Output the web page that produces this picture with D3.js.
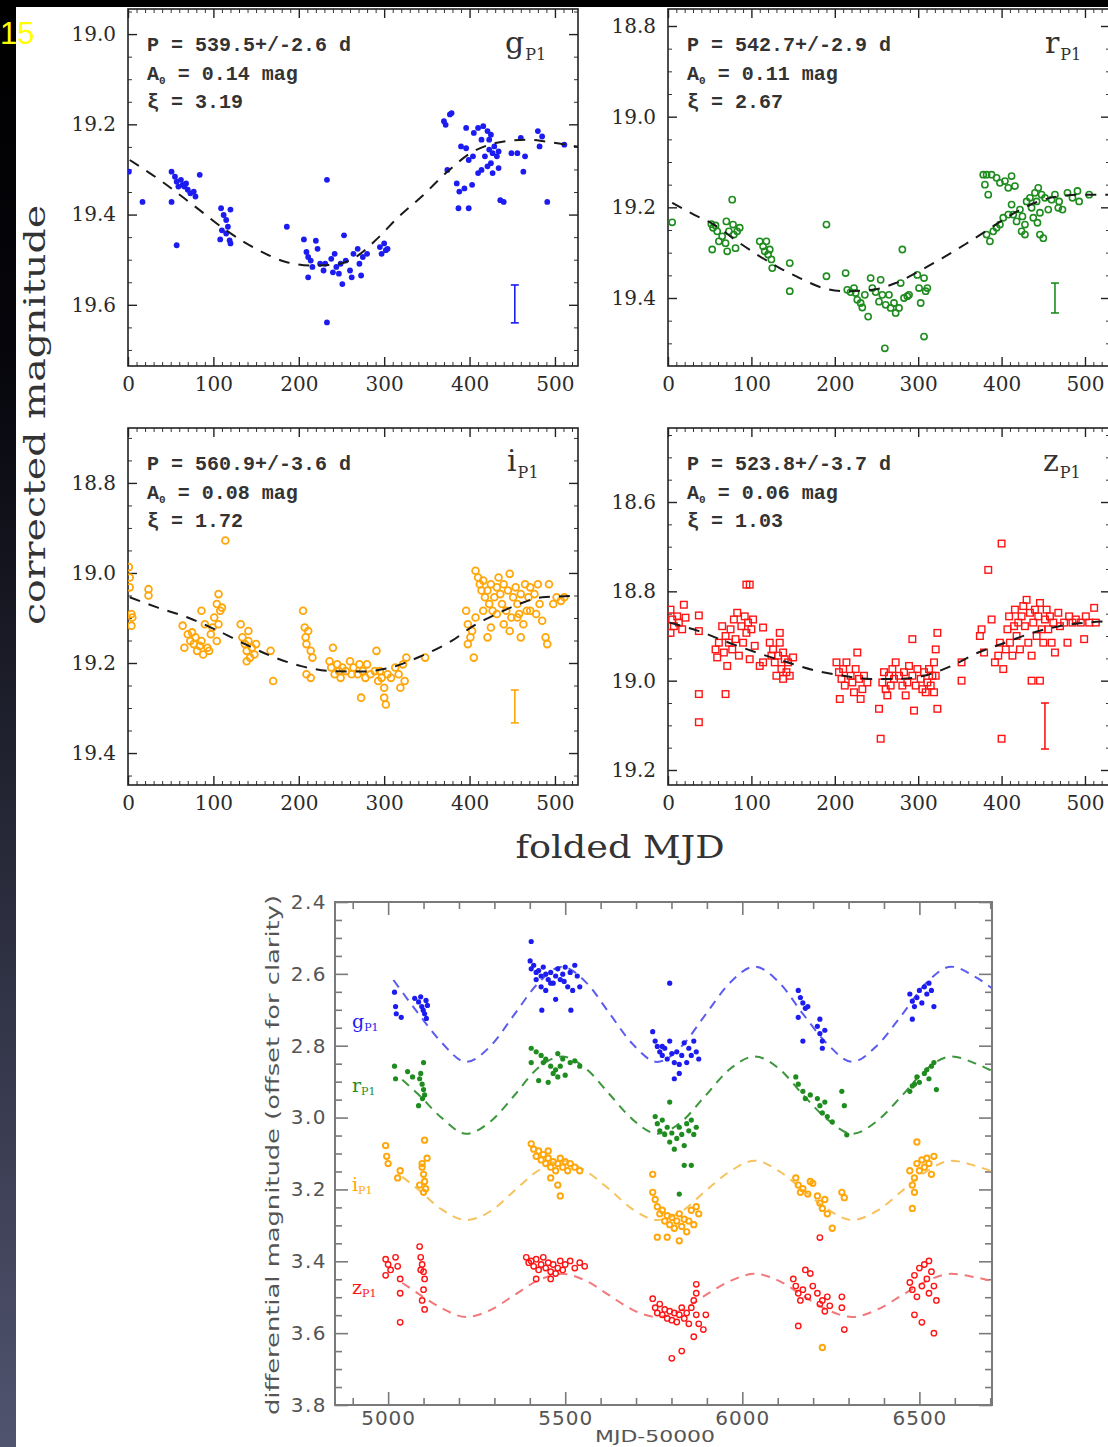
<!DOCTYPE html>
<html>
<head>
<meta charset="utf-8">
<script src="https://cdn.jsdelivr.net/npm/d3@7"></script>
<style>
html, body { margin: 0; padding: 0; background: #fff; }
svg { display: block; }
</style>
</head>
<body>
<script>
// ---------- folded light curves: [folded MJD, corrected magnitude] ----------
const gFolded = [[1,19.305],[17,19.372],[51,19.305],[51,19.372],[55,19.316],[57,19.327],[62,19.323],[64,19.334],[66,19.338],[68,19.331],[70,19.345],[73,19.353],[77,19.349],[79,19.36],[57,19.468],[84,19.312],[59,19.338],[109,19.386],[112,19.401],[115,19.412],[117,19.427],[110,19.435],[115,19.442],[119,19.457],[120,19.389],[108,19.455],[120,19.464],[186,19.427],[206,19.455],[209,19.483],[211,19.494],[214,19.502],[211,19.539],[216,19.516],[220,19.458],[222,19.476],[225,19.509],[229,19.524],[231,19.509],[233,19.323],[233,19.639],[238,19.498],[240,19.528],[242,19.487],[244,19.516],[247,19.531],[249,19.509],[251,19.554],[253,19.446],[255,19.502],[260,19.524],[262,19.539],[264,19.487],[269,19.476],[271,19.509],[273,19.535],[275,19.494],[280,19.487],[295,19.472],[297,19.487],[300,19.464],[302,19.479],[304,19.476],[370,19.193],[372,19.201],[377,19.178],[379,19.175],[374,19.301],[385,19.331],[388,19.349],[387,19.386],[399,19.386],[394,19.342],[403,19.334],[390,19.249],[396,19.253],[399,19.279],[404,19.271],[396,19.208],[405,19.219],[410,19.208],[416,19.204],[421,19.215],[425,19.223],[410,19.308],[414,19.301],[418,19.271],[423,19.256],[427,19.264],[429,19.249],[432,19.271],[434,19.26],[425,19.286],[421,19.293],[427,19.308],[434,19.297],[436,19.368],[440,19.372],[449,19.264],[456,19.264],[460,19.23],[463,19.305],[465,19.271],[480,19.215],[485,19.227],[482,19.249],[491,19.372],[511,19.245],[414,19.234],[423,19.234]];

const rFolded = [[5,19.233],[52,19.237],[54,19.245],[57,19.24],[59,19.253],[53,19.293],[61,19.275],[65,19.264],[70,19.231],[73,19.253],[71,19.297],[77,19.183],[78,19.238],[79,19.26],[81,19.29],[83,19.253],[86,19.245],[69,19.279],[110,19.275],[114,19.286],[116,19.297],[118,19.275],[120,19.304],[122,19.293],[125,19.334],[124,19.315],[146,19.323],[146,19.385],[190,19.238],[190,19.352],[213,19.345],[215,19.382],[219,19.387],[223,19.378],[225,19.389],[227,19.404],[231,19.411],[233,19.421],[236,19.393],[240,19.441],[243,19.356],[245,19.378],[249,19.387],[253,19.408],[255,19.36],[257,19.393],[260,19.511],[261,19.415],[265,19.393],[267,19.422],[271,19.411],[273,19.433],[277,19.422],[279,19.367],[281,19.293],[283,19.4],[287,19.396],[289,19.393],[299,19.349],[301,19.378],[303,19.411],[307,19.356],[311,19.378],[309,19.385],[307,19.485],[378,19.128],[382,19.128],[388,19.128],[380,19.15],[384,19.172],[394,19.135],[398,19.146],[404,19.142],[408,19.157],[412,19.131],[416,19.153],[382,19.26],[386,19.275],[390,19.253],[394,19.245],[398,19.238],[402,19.223],[408,19.216],[412,19.194],[414,19.216],[418,19.231],[422,19.205],[425,19.22],[428,19.238],[430,19.187],[434,19.179],[436,19.201],[438,19.223],[440,19.168],[442,19.187],[444,19.157],[446,19.212],[443,19.234],[446,19.26],[450,19.268],[428,19.26],[424,19.253],[448,19.172],[452,19.179],[456,19.205],[460,19.183],[464,19.172],[469,19.187],[473,19.205],[468,19.201],[479,19.168],[485,19.179],[491,19.164],[493,19.187],[505,19.172]];

const iFolded = [[2,19.01],[2,19.032],[4,19.091],[5,19.099],[4,19.117],[1,18.987],[24,19.036],[24,19.05],[64,19.117],[66,19.166],[70,19.136],[73,19.151],[75,19.132],[77,19.158],[79,19.143],[81,19.173],[84,19.162],[86,19.084],[86,19.151],[88,19.181],[90,19.114],[93,19.166],[95,19.173],[97,19.136],[99,19.121],[101,19.099],[104,19.069],[106,19.047],[108,19.084],[110,19.077],[106,19.114],[104,19.151],[114,18.928],[132,19.114],[134,19.143],[137,19.158],[139,19.173],[141,19.151],[143,19.188],[145,19.166],[148,19.181],[150,19.158],[141,19.129],[139,19.196],[167,19.173],[170,19.24],[205,19.084],[207,19.121],[208,19.143],[209,19.158],[211,19.129],[214,19.173],[216,19.188],[209,19.225],[214,19.233],[236,19.196],[238,19.21],[240,19.166],[242,19.225],[245,19.203],[247,19.218],[249,19.233],[251,19.21],[255,19.218],[260,19.196],[262,19.225],[264,19.21],[269,19.225],[271,19.203],[273,19.277],[275,19.218],[278,19.233],[280,19.203],[284,19.225],[289,19.218],[291,19.173],[293,19.24],[295,19.218],[297,19.233],[300,19.255],[300,19.277],[302,19.292],[304,19.225],[308,19.233],[313,19.21],[317,19.225],[319,19.255],[322,19.203],[324,19.24],[326,19.188],[348,19.188],[396,19.084],[398,19.114],[401,19.143],[403,19.129],[398,19.158],[405,19.188],[407,18.995],[410,19.01],[412,19.025],[414,19.039],[416,19.017],[418,19.054],[421,19.039],[423,19.069],[425,19.025],[427,19.084],[429,19.054],[432,19.032],[434,19.01],[436,19.047],[438,19.069],[440,19.025],[443,19.084],[445,19.039],[447,19.002],[449,19.099],[451,19.054],[454,19.032],[456,19.069],[458,19.091],[460,19.047],[463,19.114],[465,19.025],[467,19.084],[469,19.054],[471,19.032],[476,19.047],[480,19.025],[482,19.069],[485,19.106],[489,19.143],[491,19.158],[493,19.025],[498,19.069],[502,19.054],[507,19.062],[511,19.054],[421,19.143],[425,19.121],[460,19.143],[432,19.091],[440,19.114],[447,19.129],[456,19.099],[471,19.084],[478,19.091],[416,19.084],[407,19.099]];

const zFolded = [[3,18.841],[5,18.863],[7,18.878],[11,18.856],[13,18.87],[17,18.885],[19,18.83],[21,18.859],[3,18.893],[37,18.854],[37,18.889],[37,19.03],[37,19.093],[57,18.93],[59,18.948],[61,18.915],[65,18.878],[67,18.937],[69,18.9],[69,19.03],[71,18.967],[73,18.915],[75,18.885],[77,18.93],[79,18.863],[81,18.907],[83,18.848],[85,18.944],[88,18.878],[90,18.915],[92,18.856],[94,18.893],[96,18.87],[98,18.952],[100,18.885],[98,18.785],[94,18.785],[102,18.863],[104,18.922],[114,18.881],[110,18.967],[114,18.959],[122,18.915],[124,18.944],[126,18.93],[128,18.959],[130,18.989],[132,18.944],[134,18.893],[134,18.915],[136,18.974],[138,18.996],[140,18.952],[142,18.981],[144,18.959],[146,18.989],[150,18.948],[138,18.937],[202,18.959],[205,18.981],[206,19.041],[208,18.996],[210,18.974],[212,19.011],[214,18.959],[219,18.989],[221,19.004],[223,19.026],[225,18.974],[227,18.937],[229,18.996],[231,19.041],[233,19.019],[235,18.989],[239,19.004],[253,19.063],[255,19.13],[257,19.004],[259,18.981],[261,19.019],[263,19.033],[265,18.989],[267,19.011],[269,18.974],[271,18.996],[273,18.959],[277,18.989],[281,19.011],[283,18.981],[285,19.033],[287,19.004],[289,18.967],[293,18.989],[295,19.067],[293,18.907],[297,19.011],[299,18.974],[303,18.996],[305,19.019],[307,18.981],[309,19.026],[311,19.004],[313,18.974],[315,19.011],[317,18.989],[319,18.959],[321,18.93],[323,18.893],[323,19.063],[321,18.989],[319,19.026],[352,18.959],[352,19.0],[374,18.9],[376,18.885],[379,18.937],[384,18.752],[388,18.863],[392,18.959],[396,18.944],[398,18.915],[400,18.693],[400,19.13],[402,18.974],[405,18.93],[407,18.885],[409,18.856],[410,18.915],[413,18.944],[415,18.878],[416,18.841],[418,18.9],[420,18.87],[422,18.93],[424,18.856],[426,18.833],[428,18.878],[430,18.819],[432,18.915],[434,18.848],[436,18.944],[438,18.87],[440,18.841],[442,18.9],[444,18.856],[446,18.826],[448,18.885],[450,18.915],[452,18.863],[454,18.841],[456,18.885],[458,18.856],[460,18.915],[462,18.87],[464,18.937],[436,19.0],[446,19.0],[468,18.848],[470,18.878],[475,18.87],[479,18.915],[481,18.856],[485,18.87],[489,18.863],[495,18.87],[499,18.907],[501,18.856],[505,18.87],[511,18.837],[513,18.87]];

// folded best-fit curves
const gFoldFit = [[2,19.279],[40,19.327],[79,19.383],[115,19.435],[150,19.476],[185,19.505],[215,19.513],[245,19.51],[270,19.49],[291,19.455],[317,19.405],[344,19.36],[374,19.305],[401,19.264],[432,19.241],[467,19.234],[489,19.238],[527,19.25]];
const rFoldFit = [[5,19.19],[31,19.216],[55,19.238],[83,19.275],[110,19.308],[134,19.334],[158,19.356],[186,19.378],[213,19.385],[245,19.382],[273,19.367],[301,19.341],[329,19.312],[356,19.282],[384,19.249],[412,19.216],[440,19.19],[467,19.176],[495,19.172],[530,19.172]];
const iFoldFit = [[2,19.054],[35,19.077],[70,19.099],[106,19.129],[137,19.158],[167,19.184],[203,19.207],[238,19.218],[273,19.219],[308,19.21],[344,19.184],[379,19.151],[405,19.117],[432,19.091],[458,19.069],[485,19.054],[527,19.051]];
const zFoldFit = [[2,18.87],[37,18.889],[73,18.915],[106,18.937],[138,18.956],[178,18.978],[210,18.989],[243,18.996],[275,18.996],[307,18.989],[340,18.967],[372,18.937],[404,18.915],[437,18.893],[469,18.878],[501,18.87],[530,18.867]];

// typical error bars: [folded MJD, magnitude low, magnitude high]
const gErrBar = [453, 19.556, 19.640];
const rErrBar = [464, 19.367, 19.433];
const iErrBar = [453, 19.260, 19.333];
const zErrBar = [452, 19.050, 19.153];

// fit results per band
const bands = ['g', 'r', 'i', 'z'];
const periodText = ['P = 539.5+/-2.6 d', 'P = 542.7+/-2.9 d', 'P = 560.9+/-3.6 d', 'P = 523.8+/-3.7 d'];
const ampText = ['0.14', '0.11', '0.08', '0.06'];
const xiText = ['3.19', '2.67', '1.72', '1.03'];

// folded axis ticks
const foldedXTicks = [0, 100, 200, 300, 400, 500];
const gYTicks = [19.0, 19.2, 19.4, 19.6];
const rYTicks = [18.8, 19.0, 19.2, 19.4];
const iYTicks = [18.8, 19.0, 19.2, 19.4];
const zYTicks = [18.6, 18.8, 19.0, 19.2];

// ---------- full light curves: [MJD-50000, differential magnitude + offset] ----------
const gLight = [[5018,2.651],[5021,2.691],[5023,2.711],[5037,2.721],[5075,2.668],[5086,2.678],[5095,2.691],[5099,2.701],[5103,2.711],[5107,2.674],[5108,2.724],[5111,2.688],[5092,2.664],
[5401,2.564],[5404,2.586],[5411,2.576],[5418,2.596],[5425,2.591],[5432,2.606],[5438,2.581],[5445,2.601],[5452,2.616],[5459,2.596],[5466,2.626],[5473,2.606],[5479,2.586],[5486,2.616],[5493,2.601],[5500,2.581],[5507,2.636],[5514,2.596],[5521,2.646],[5527,2.576],[5534,2.606],[5541,2.636],[5432,2.636],[5445,2.646],[5418,2.616],[5473,2.671],[5434,2.701],[5516,2.701],[5404,2.51],[5459,2.626],[5497,2.621],
[5747,2.761],[5754,2.787],[5760,2.802],[5767,2.817],[5774,2.827],[5781,2.807],[5788,2.837],[5795,2.787],[5801,2.822],[5808,2.847],[5815,2.817],[5822,2.877],[5829,2.827],[5836,2.792],[5843,2.847],[5849,2.807],[5856,2.827],[5863,2.787],[5870,2.817],[5877,2.837],[5808,2.892],[5795,2.626],[5822,2.852],[5774,2.802],
[6158,2.646],[6164,2.666],[6171,2.681],[6178,2.696],[6158,2.721],[6185,2.691],[6212,2.746],[6219,2.766],[6226,2.787],[6233,2.757],[6226,2.807],[6171,2.787],[6219,2.726],
[6473,2.656],[6480,2.676],[6486,2.691],[6493,2.666],[6500,2.646],[6507,2.681],[6514,2.636],[6521,2.656],[6527,2.626],[6534,2.646],[6541,2.691],[6480,2.726]];

const rLight = [[5018,2.857],[5021,2.892],[5055,2.872],[5069,2.887],[5089,2.892],[5096,2.907],[5100,2.922],[5103,2.937],[5097,2.947],[5092,2.877],[5100,2.847],[5086,2.967],
[5404,2.807],[5418,2.817],[5432,2.827],[5438,2.847],[5445,2.837],[5459,2.857],[5466,2.877],[5473,2.867],[5479,2.887],[5486,2.857],[5493,2.837],[5500,2.882],[5514,2.847],[5527,2.842],[5541,2.857],[5425,2.897],[5452,2.902],[5404,2.847],[5479,2.822],
[5754,2.997],[5760,3.017],[5767,3.037],[5774,3.007],[5781,3.047],[5788,3.027],[5795,3.068],[5801,3.043],[5808,3.088],[5815,3.058],[5822,3.027],[5829,3.047],[5836,3.078],[5843,3.017],[5849,3.037],[5856,3.007],[5863,3.047],[5870,3.027],[5795,2.957],[5836,3.133],[5856,3.133],[5822,3.213],
[6151,2.887],[6158,2.907],[6171,2.927],[6178,2.947],[6192,2.937],[6212,2.947],[6219,2.967],[6226,2.987],[6233,2.957],[6240,2.997],[6254,3.012],[6281,2.927],[6288,2.967],[6295,3.048],
[6473,2.927],[6486,2.907],[6493,2.887],[6500,2.902],[6514,2.877],[6521,2.867],[6527,2.892],[6534,2.857],[6541,2.847],[6548,2.922],[6480,2.912]];

const iLight = [[4993,3.078],[4996,3.108],[5000,3.128],[5027,3.168],[5034,3.148],[5096,3.138],[5100,3.158],[5103,3.178],[5106,3.198],[5100,3.208],[5089,3.188],[5110,3.113],[5103,3.063],[5096,3.128],
[5404,3.073],[5411,3.088],[5418,3.108],[5425,3.093],[5432,3.118],[5438,3.103],[5445,3.128],[5452,3.113],[5459,3.138],[5466,3.123],[5473,3.148],[5479,3.128],[5486,3.113],[5493,3.138],[5500,3.123],[5507,3.148],[5514,3.128],[5527,3.138],[5541,3.148],[5459,3.168],[5479,3.188],[5486,3.218],[5452,3.093],
[5747,3.158],[5747,3.208],[5754,3.228],[5760,3.248],[5767,3.268],[5774,3.258],[5781,3.288],[5788,3.273],[5795,3.298],[5801,3.278],[5808,3.308],[5815,3.288],[5822,3.268],[5829,3.303],[5836,3.283],[5843,3.318],[5849,3.288],[5856,3.258],[5863,3.298],[5870,3.248],[5877,3.268],[5788,3.333],[5822,3.343],[5760,3.333],
[6151,3.168],[6158,3.188],[6164,3.208],[6171,3.198],[6185,3.213],[6199,3.183],[6212,3.218],[6219,3.238],[6226,3.253],[6233,3.228],[6240,3.268],[6254,3.308],[6281,3.208],[6288,3.223],[6192,3.178],
[6473,3.148],[6480,3.188],[6486,3.168],[6493,3.128],[6500,3.148],[6507,3.118],[6514,3.138],[6521,3.113],[6527,3.128],[6534,3.158],[6541,3.108],[6493,3.068],[6480,3.253],[6486,3.208],[6226,3.64]];

const zLight = [[4993,3.394],[5000,3.409],[5007,3.424],[4993,3.439],[5021,3.389],[5027,3.414],[5034,3.449],[5034,3.489],[5034,3.57],[5089,3.359],[5092,3.389],[5096,3.409],[5100,3.429],[5103,3.449],[5100,3.479],[5096,3.509],[5103,3.534],[5092,3.424],
[5390,3.389],[5397,3.404],[5404,3.399],[5411,3.414],[5418,3.394],[5425,3.424],[5432,3.409],[5438,3.389],[5445,3.419],[5452,3.404],[5459,3.429],[5466,3.409],[5473,3.434],[5479,3.419],[5486,3.399],[5493,3.424],[5500,3.409],[5514,3.399],[5527,3.419],[5541,3.404],[5555,3.414],[5418,3.449],[5459,3.449],
[5747,3.504],[5754,3.529],[5760,3.544],[5767,3.519],[5774,3.549],[5781,3.534],[5788,3.559],[5795,3.539],[5801,3.564],[5808,3.544],[5815,3.569],[5822,3.549],[5829,3.529],[5836,3.559],[5843,3.544],[5849,3.574],[5856,3.529],[5863,3.509],[5870,3.549],[5877,3.574],[5870,3.489],[5870,3.464],[5863,3.61],[5801,3.67],[5829,3.65],[5890,3.59],[5897,3.549],
[6144,3.449],[6151,3.469],[6158,3.489],[6164,3.509],[6171,3.479],[6185,3.499],[6192,3.434],[6199,3.469],[6212,3.489],[6219,3.519],[6226,3.509],[6233,3.539],[6240,3.499],[6247,3.524],[6178,3.424],[6158,3.58],[6281,3.499],[6281,3.529],[6288,3.59],[6219,3.334],
[6473,3.459],[6480,3.479],[6486,3.439],[6493,3.499],[6500,3.419],[6507,3.469],[6514,3.409],[6521,3.449],[6527,3.489],[6534,3.429],[6541,3.469],[6548,3.509],[6486,3.549],[6507,3.57],[6541,3.6],[6527,3.399]];

// periodic model curves for the full light curves
const gModel = [[5015,2.617],[5085,2.71],[5150,2.79],[5220,2.845],[5290,2.80],[5355,2.715],[5420,2.63],[5490,2.58],[5560,2.625],[5625,2.71],[5690,2.795],[5760,2.845],[5830,2.80],[5895,2.715],[5965,2.625],[6035,2.58],[6105,2.625],[6170,2.71],[6240,2.795],[6310,2.845],[6380,2.80],[6450,2.715],[6520,2.625],[6590,2.58],[6660,2.61],[6705,2.64]];
const rModel = [[5040,2.895],[5085,2.935],[5150,3.00],[5220,3.045],[5290,3.01],[5355,2.94],[5420,2.865],[5490,2.83],[5560,2.865],[5625,2.935],[5690,3.005],[5760,3.045],[5830,3.01],[5895,2.94],[5965,2.865],[6035,2.83],[6105,2.865],[6170,2.935],[6240,3.005],[6310,3.045],[6380,3.01],[6450,2.94],[6520,2.865],[6590,2.83],[6660,2.85],[6705,2.87]];
const iModel = [[5040,3.165],[5085,3.20],[5150,3.255],[5220,3.285],[5290,3.26],[5355,3.205],[5420,3.15],[5490,3.12],[5560,3.15],[5625,3.20],[5690,3.255],[5760,3.285],[5830,3.26],[5895,3.205],[5965,3.15],[6035,3.12],[6105,3.15],[6170,3.20],[6240,3.255],[6310,3.285],[6380,3.26],[6450,3.205],[6520,3.15],[6590,3.12],[6660,3.135],[6705,3.15]];
const zModel = [[5040,3.46],[5085,3.49],[5150,3.53],[5220,3.555],[5290,3.535],[5355,3.495],[5420,3.455],[5490,3.435],[5560,3.455],[5625,3.495],[5690,3.535],[5760,3.555],[5830,3.535],[5895,3.495],[5965,3.455],[6035,3.435],[6105,3.455],[6170,3.495],[6240,3.535],[6310,3.555],[6380,3.535],[6450,3.495],[6520,3.455],[6590,3.435],[6660,3.445],[6705,3.455]];

const lightXTicks = [5000, 5500, 6000, 6500];
const lightYTicks = [2.4, 2.6, 2.8, 3.0, 3.2, 3.4, 3.6, 3.8];

// ---------- drawing ----------
const W = 1108, H = 1447;
const svg = d3.select('body').append('svg').attr('width', W).attr('height', H);
const defs = svg.append('defs');
svg.append('rect').attr('width', W).attr('height', H).attr('fill', '#fff');

const bandColor = { g: '#1c1cf0', r: '#1e8c1e', i: '#ffa60a', z: '#ff1414' };
const serif = "'DejaVu Serif', serif";

const panels = [
  { band: 'g', pts: gFolded, fit: gFoldFit, err: gErrBar, yTicks: gYTicks,
    left: 128, right: 578, top: 9, bottom: 366, xMax: 527, yDom: [18.9444, 19.7356], lab: [505, 53] },
  { band: 'r', pts: rFolded, fit: rFoldFit, err: rErrBar, yTicks: rYTicks,
    left: 668, right: 1110, top: 9, bottom: 366, xMax: 530, yDom: [18.7625, 19.55], lab: [1045, 53] },
  { band: 'i', pts: iFolded, fit: iFoldFit, err: iErrBar, yTicks: iYTicks,
    left: 128, right: 578, top: 428, bottom: 785, xMax: 527, yDom: [18.678, 19.471], lab: [507, 471] },
  { band: 'z', pts: zFolded, fit: zFoldFit, err: zErrBar, yTicks: zYTicks,
    left: 668, right: 1110, top: 428, bottom: 785, xMax: 530, yDom: [18.4343, 19.2336], lab: [1043, 471] }
];

function styleAxis(sel, color, width) {
  sel.select('.domain').remove();
  sel.selectAll('line').attr('stroke', color).attr('stroke-width', width);
}

panels.forEach((p, k) => {
  const x = d3.scaleLinear().domain([0, p.xMax]).range([p.left, p.right]);
  const y = d3.scaleLinear().domain(p.yDom).range([p.top, p.bottom]);
  const g = svg.append('g');
  const clipId = 'clip-' + p.band;
  defs.append('clipPath').attr('id', clipId).append('rect')
    .attr('x', p.left).attr('y', p.top).attr('width', p.right - p.left).attr('height', p.bottom - p.top);

  const xMinor = d3.range(10, p.xMax, 10).filter(v => v % 100 !== 0);
  const yMinor = d3.range(Math.ceil(p.yDom[0] * 20) / 20, p.yDom[1], 0.05)
    .filter(v => Math.abs(v * 5 - Math.round(v * 5)) > 1e-6);

  // minor ticks (four sides)
  [[d3.axisBottom(x), `translate(0,${p.bottom})`], [d3.axisTop(x), `translate(0,${p.top})`]].forEach(([ax, tr]) => {
    g.append('g').attr('transform', tr)
      .call(ax.tickValues(xMinor).tickSize(-4).tickFormat(''))
      .call(s => styleAxis(s, '#333', 1));
  });
  [[d3.axisLeft(y), `translate(${p.left},0)`], [d3.axisRight(y), `translate(${p.right},0)`]].forEach(([ax, tr]) => {
    g.append('g').attr('transform', tr)
      .call(ax.tickValues(yMinor).tickSize(-4).tickFormat(''))
      .call(s => styleAxis(s, '#333', 1));
  });

  // major ticks with labels
  const xb = g.append('g').attr('transform', `translate(0,${p.bottom})`)
    .call(d3.axisBottom(x).tickValues(foldedXTicks).tickSizeInner(-9).tickSizeOuter(0).tickPadding(11).tickFormat(d3.format('d')));
  styleAxis(xb, '#222', 1.4);
  xb.selectAll('text').attr('font-family', serif).attr('font-size', 20).attr('fill', '#2a2a2a');
  const xt = g.append('g').attr('transform', `translate(0,${p.top})`)
    .call(d3.axisTop(x).tickValues(foldedXTicks).tickSize(-9).tickFormat(''));
  styleAxis(xt, '#222', 1.4);
  const yl = g.append('g').attr('transform', `translate(${p.left},0)`)
    .call(d3.axisLeft(y).tickValues(p.yTicks).tickSizeInner(-9).tickSizeOuter(0).tickPadding(12).tickFormat(d3.format('.1f')));
  styleAxis(yl, '#222', 1.4);
  yl.selectAll('text').attr('font-family', serif).attr('font-size', 20).attr('fill', '#2a2a2a');
  const yr = g.append('g').attr('transform', `translate(${p.right},0)`)
    .call(d3.axisRight(y).tickValues(p.yTicks).tickSize(-9).tickFormat(''));
  styleAxis(yr, '#222', 1.4);

  // frame
  g.append('rect').attr('x', p.left).attr('y', p.top)
    .attr('width', p.right - p.left).attr('height', p.bottom - p.top)
    .attr('fill', 'none').attr('stroke', '#222').attr('stroke-width', 1.6);

  const plot = g.append('g').attr('clip-path', `url(#${clipId})`);
  const col = bandColor[p.band];

  // data points: g filled dots, r & i open circles, z open squares
  if (p.band === 'g') {
    plot.selectAll('circle').data(p.pts).join('circle')
      .attr('cx', d => x(d[0])).attr('cy', d => y(d[1])).attr('r', 2.9).attr('fill', col);
  } else if (p.band === 'z') {
    plot.selectAll('rect').data(p.pts).join('rect')
      .attr('x', d => x(d[0]) - 3.3).attr('y', d => y(d[1]) - 3.3)
      .attr('width', 6.6).attr('height', 6.6)
      .attr('fill', 'none').attr('stroke', col).attr('stroke-width', 1.4);
  } else {
    plot.selectAll('circle').data(p.pts).join('circle')
      .attr('cx', d => x(d[0])).attr('cy', d => y(d[1])).attr('r', p.band === 'i' ? 3.4 : 3.1)
      .attr('fill', 'none').attr('stroke', col).attr('stroke-width', p.band === 'i' ? 1.8 : 1.6);
  }

  // folded fit
  plot.append('path').datum(p.fit)
    .attr('d', d3.line().x(d => x(d[0])).y(d => y(d[1])).curve(d3.curveMonotoneX))
    .attr('fill', 'none').attr('stroke', '#1a1a1a').attr('stroke-width', 2)
    .attr('stroke-dasharray', '11,9');

  // typical error bar
  const ex = x(p.err[0]);
  const eb = g.append('g').attr('stroke', col).attr('stroke-width', 1.6);
  eb.append('line').attr('x1', ex).attr('x2', ex).attr('y1', y(p.err[1])).attr('y2', y(p.err[2]));
  eb.append('line').attr('x1', ex - 4).attr('x2', ex + 4).attr('y1', y(p.err[1])).attr('y2', y(p.err[1]));
  eb.append('line').attr('x1', ex - 4).attr('x2', ex + 4).attr('y1', y(p.err[2])).attr('y2', y(p.err[2]));

  // fit results
  const tx = p.left + 19;
  const ann = g.append('g').attr('font-family', "'Liberation Mono', monospace")
    .attr('font-weight', 'bold').attr('font-size', 20).attr('fill', '#333');
  ann.append('text').attr('x', tx).attr('y', p.top + 42).text(periodText[k]);
  const a = ann.append('text').attr('x', tx).attr('y', p.top + 71);
  a.append('tspan').text('A');
  a.append('tspan').attr('font-size', 11).attr('dy', 4).text('0');
  a.append('tspan').attr('dy', -4).text(' = ' + ampText[k] + ' mag');
  ann.append('text').attr('x', tx).attr('y', p.top + 99).text('ξ = ' + xiText[k]);

  // band name
  const bl = g.append('text').attr('x', p.lab[0]).attr('y', p.lab[1])
    .attr('font-family', serif).attr('fill', '#333');
  bl.append('tspan').attr('font-size', 30).text(p.band);
  bl.append('tspan').attr('font-size', 16).attr('dy', 7).attr('dx', 1).text('P1');
});

// shared labels of the folded panels
svg.append('text').attr('transform', 'translate(45,415) rotate(-90)')
  .attr('text-anchor', 'middle').attr('font-family', serif).attr('font-size', 30)
  .attr('fill', '#333').attr('textLength', 420).attr('lengthAdjust', 'spacingAndGlyphs')
  .text('corrected magnitude');
svg.append('text').attr('x', 620).attr('y', 858)
  .attr('text-anchor', 'middle').attr('font-family', serif).attr('font-size', 32)
  .attr('fill', '#333').attr('textLength', 209).attr('lengthAdjust', 'spacingAndGlyphs')
  .text('folded MJD');

// ---------- full light curve panel ----------
(function () {
  const L = 335, R = 992, T = 902, B = 1405;
  const x = d3.scaleLinear().domain([4850, 6705]).range([L, R]);
  const y = d3.scaleLinear().domain([2.4, 3.8]).range([T, B]);
  const g = svg.append('g');
  const axisCol = '#7a7a7a';
  const sans = "'DejaVu Sans', 'Liberation Sans', sans-serif";
  defs.append('clipPath').attr('id', 'clip-lc').append('rect')
    .attr('x', L).attr('y', T).attr('width', R - L).attr('height', B - T);

  const xMinor = d3.range(4900, 6705, 100).filter(v => v % 500 !== 0);
  const yMinor = d3.range(2.45, 3.8, 0.05).filter(v => Math.abs(v * 5 - Math.round(v * 5)) > 1e-6);

  [[d3.axisBottom(x), B], [d3.axisTop(x), T]].forEach(([ax, pos]) => {
    g.append('g').attr('transform', `translate(0,${pos})`)
      .call(ax.tickValues(xMinor).tickSize(-7).tickFormat('')).call(s => styleAxis(s, axisCol, 1.6));
  });
  [[d3.axisLeft(y), L], [d3.axisRight(y), R]].forEach(([ax, pos]) => {
    g.append('g').attr('transform', `translate(${pos},0)`)
      .call(ax.tickValues(yMinor).tickSize(-7).tickFormat('')).call(s => styleAxis(s, axisCol, 1.6));
  });
  const xb = g.append('g').attr('transform', `translate(0,${B})`)
    .call(d3.axisBottom(x).tickValues(lightXTicks).tickSizeInner(-13).tickSizeOuter(0).tickPadding(6).tickFormat(d3.format('d')));
  styleAxis(xb, axisCol, 1.6);
  xb.selectAll('text').attr('font-family', sans).attr('font-size', 20).attr('fill', '#555').attr('letter-spacing', 1);
  g.append('g').attr('transform', `translate(0,${T})`)
    .call(d3.axisTop(x).tickValues(lightXTicks).tickSize(-13).tickFormat('')).call(s => styleAxis(s, axisCol, 1.6));
  const yl = g.append('g').attr('transform', `translate(${L},0)`)
    .call(d3.axisLeft(y).tickValues(lightYTicks).tickSizeInner(-13).tickSizeOuter(0).tickPadding(8).tickFormat(d3.format('.1f')));
  styleAxis(yl, axisCol, 1.6);
  yl.selectAll('text').attr('font-family', sans).attr('font-size', 20).attr('fill', '#555').attr('letter-spacing', 1.5);
  g.append('g').attr('transform', `translate(${R},0)`)
    .call(d3.axisRight(y).tickValues(lightYTicks).tickSize(-13).tickFormat('')).call(s => styleAxis(s, axisCol, 1.6));
  g.append('rect').attr('x', L).attr('y', T).attr('width', R - L).attr('height', B - T)
    .attr('fill', 'none').attr('stroke', axisCol).attr('stroke-width', 2);

  const plot = g.append('g').attr('clip-path', 'url(#clip-lc)');
  const line = d3.line().x(d => x(d[0])).y(d => y(d[1])).curve(d3.curveMonotoneX);
  const modelCol = { g: '#5b5bf0', r: '#3c963c', i: '#f6c25e', z: '#f2787a' };
  [['g', gModel], ['r', rModel], ['i', iModel], ['z', zModel]].forEach(([b, m]) => {
    plot.append('path').datum(m).attr('d', line).attr('fill', 'none')
      .attr('stroke', modelCol[b]).attr('stroke-width', 2).attr('stroke-dasharray', '9,7');
  });
  [['z', zLight], ['i', iLight], ['r', rLight], ['g', gLight]].forEach(([b, pts]) => {
    const s = plot.append('g').selectAll('circle').data(pts).join('circle')
      .attr('cx', d => x(d[0])).attr('cy', d => y(d[1]));
    if (b === 'g' || b === 'r') s.attr('r', 2.6).attr('fill', bandColor[b]);
    else s.attr('r', 2.7).attr('fill', 'none').attr('stroke', bandColor[b]).attr('stroke-width', b === 'i' ? 1.9 : 1.4);
  });

  // band names beside the curves
  [['g', 2.752], ['r', 2.928], ['i', 3.205], ['z', 3.49]].forEach(([b, v]) => {
    const t = g.append('text').attr('x', 352).attr('y', y(v))
      .attr('font-family', serif).attr('fill', bandColor[b]);
    t.append('tspan').attr('font-size', 19).text(b);
    t.append('tspan').attr('font-size', 11).attr('dy', 3).text('P1');
  });

  svg.append('text').attr('transform', 'translate(279,1155) rotate(-90)')
    .attr('text-anchor', 'middle').attr('font-family', sans).attr('font-size', 18)
    .attr('fill', '#555').attr('textLength', 520).attr('lengthAdjust', 'spacingAndGlyphs')
    .text('differential magnitude (offset for clarity)');
  svg.append('text').attr('x', 655).attr('y', 1442).attr('text-anchor', 'middle')
    .attr('font-family', sans).attr('font-size', 16).attr('fill', '#555')
    .attr('textLength', 120).attr('lengthAdjust', 'spacingAndGlyphs')
    .text('MJD-50000');
})();

// ---------- slide edges ----------
const grad = defs.append('linearGradient').attr('id', 'edge').attr('x1', 0).attr('y1', 0).attr('x2', 0).attr('y2', 1);
grad.append('stop').attr('offset', 0).attr('stop-color', '#000');
grad.append('stop').attr('offset', 0.25).attr('stop-color', '#06060c');
grad.append('stop').attr('offset', 1).attr('stop-color', '#50546f');
svg.append('rect').attr('x', 0).attr('y', 0).attr('width', 16).attr('height', H).attr('fill', 'url(#edge)');
svg.append('rect').attr('x', 0).attr('y', 0).attr('width', W).attr('height', 7).attr('fill', '#000');
svg.append('text').attr('x', 0).attr('y', 44)
  .attr('font-family', "'Liberation Sans', sans-serif").attr('font-size', 31)
  .attr('fill', '#ffff00').text('15');
</script>
</body>
</html>
